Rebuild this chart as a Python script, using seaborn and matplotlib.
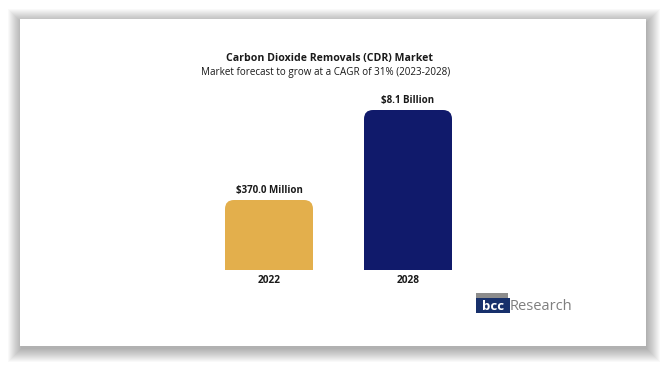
import seaborn as sns
import matplotlib.pyplot as plt
import pandas as pd
from matplotlib.patches import Rectangle, FancyBboxPatch

# data
years = ["2022", "2028"]
value_labels = ["$370.0 Million", "$8.1 Billion"]
bar_height = [70, 160]          # drawn heights
bar_colors = ["#E3AF4C", "#101A6B"]

df = pd.DataFrame({"year": years, "height": bar_height})

sns.set_theme(style="white")
plt.rcParams["font.family"] = ["Open Sans", "DejaVu Sans"]

W, H = 666, 366
fig = plt.figure(figsize=(W / 100, H / 100), dpi=100)
fig.patch.set_facecolor("white")


def fx(px):
    return px / W


def fy(py):
    return (H - py) / H


# card with soft shadow
for i in range(14, 0, -1):
    fig.patches.append(Rectangle((fx(20 - i + 2), fy(346 + i + 2)), fx(626 + 2 * i - 2), (327 + 2 * i - 2) / H,
                                 transform=fig.transFigure, facecolor="black", alpha=0.025,
                                 edgecolor="none", zorder=0))
fig.patches.append(Rectangle((fx(20), fy(346)), fx(626), 327 / H, transform=fig.transFigure,
                             facecolor="white", edgecolor="none", zorder=1))

# titles
fig.text(fx(330), fy(59), "Carbon Dioxide Removals (CDR) Market", ha="center", va="center",
         fontsize=7.6, fontweight="bold", color="#1a1a1a", zorder=5)
fig.text(fx(326), fy(72), "Market forecast to grow at a CAGR of 31% (2023-2028)", ha="center", va="center",
         fontsize=7.1, color="#1a1a1a", zorder=5)

# bar axes
ax = fig.add_axes([fx(150), fy(270), fx(380), 170 / H])
ax.set_zorder(3)
ax.patch.set_alpha(0)
sns.barplot(data=df, x="year", y="height", hue="year", palette=bar_colors, legend=False,
            width=88 / 139, ax=ax, saturation=1)
ax.set_xlim((150 - 269) / 139, (530 - 269) / 139)
ax.set_ylim(0, 170)

r = 9 / 139
for p, c in zip(list(ax.patches), bar_colors):
    x0, w, h = p.get_x(), p.get_width(), p.get_height()
    p.set_visible(False)
    ax.add_patch(FancyBboxPatch((x0, 0), w, h, boxstyle=f"round,pad=0,rounding_size={r}",
                                mutation_aspect=139, facecolor=c, edgecolor="none"))
    ax.add_patch(Rectangle((x0, 0), w, h / 2, facecolor=c, edgecolor="none"))

for i, (h, lab) in enumerate(zip(bar_height, value_labels)):
    ax.text(i, h + 10, lab, ha="center", va="center", fontsize=7, fontweight="bold", color="#1a1a1a")

ax.set_xlabel("")
ax.set_ylabel("")
ax.set_yticks([])
ax.tick_params(axis="x", length=0, pad=3.5, labelsize=7.3)
for t in ax.get_xticklabels():
    t.set_fontweight("bold")
    t.set_color("#1a1a1a")
sns.despine(ax=ax, left=True, bottom=True, top=True, right=True)

# logo
fig.patches.append(Rectangle((fx(476), fy(298)), fx(32), 5 / H, transform=fig.transFigure,
                             facecolor="#8C8C8C", edgecolor="none", zorder=4))
fig.patches.append(Rectangle((fx(476), fy(313)), fx(34), 15 / H, transform=fig.transFigure,
                             facecolor="#17306B", edgecolor="none", zorder=4))
fig.text(fx(493), fy(306), "bcc", ha="center", va="center", fontsize=9.5, fontweight="bold",
         color="white", zorder=5)
fig.text(fx(510), fy(307), "Research", ha="left", va="center", fontsize=10.5,
         color="#7F7F7F", zorder=5)

fig.savefig("out.png", dpi=100)
